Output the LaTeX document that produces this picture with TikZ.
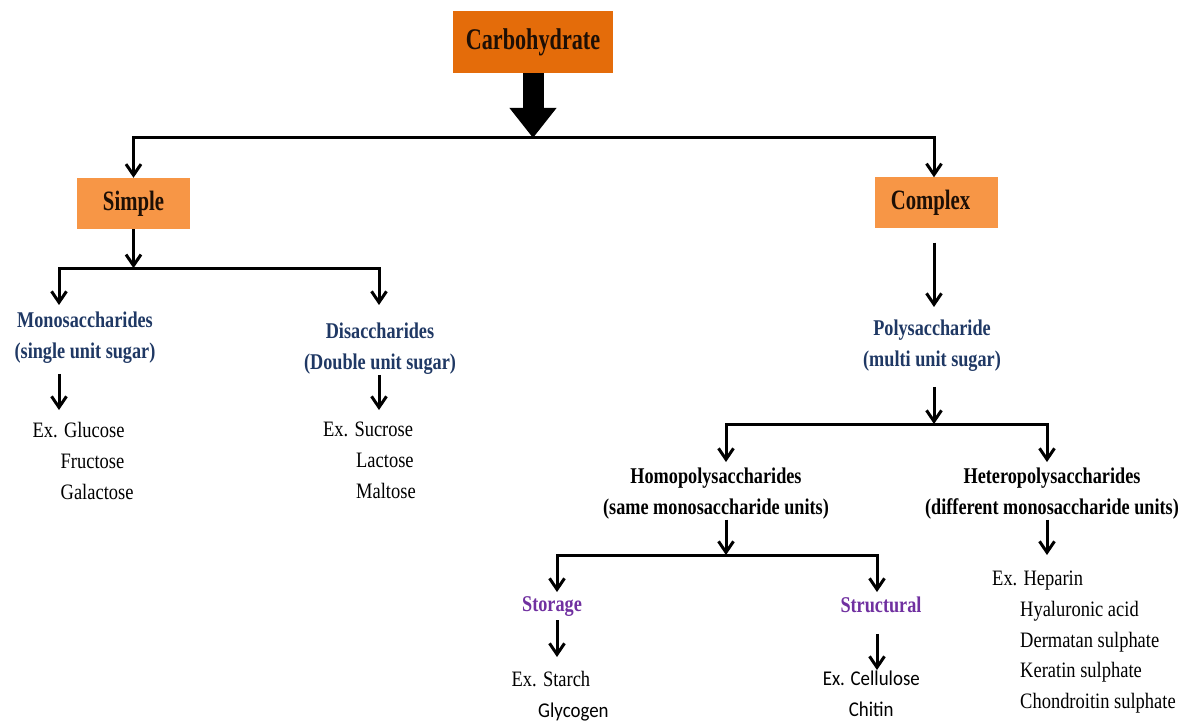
\documentclass[tikz,border=0pt]{standalone}
\usepackage{fontspec}
\setmainfont{Liberation Serif}
\newfontfamily\boxfamily{Liberation Serif}[FakeStretch=0.74]
\newfontfamily\labelfamily{Liberation Serif}[FakeStretch=0.81]
\newfontfamily\exfamily{Liberation Serif}[FakeStretch=0.84]
\newfontfamily\calfamily{Carlito}[FakeStretch=0.9]
\newcommand{\rootfont}{\boxfamily\bfseries\fontsize{30}{36}\selectfont}
\newcommand{\classfont}{\boxfamily\bfseries\fontsize{28}{34}\selectfont}
\newcommand{\sugarfont}{\labelfamily\bfseries\fontsize{22.5}{31}\selectfont}
\newcommand{\exfont}{\exfamily\fontsize{22}{30.8}\selectfont}
\newcommand{\calfont}{\calfamily\fontsize{21}{30.8}\selectfont}
\usepackage{tikz}
\usetikzlibrary{arrows.meta}
\definecolor{carbfill}{RGB}{228,108,10}
\definecolor{classfill}{RGB}{247,150,70}
\definecolor{boxtext}{RGB}{30,15,5}
\definecolor{sugarblue}{RGB}{31,56,100}
\definecolor{kindpurple}{RGB}{112,48,160}
\tikzstyle{arrow} = [line width=3pt,-{Straight Barb[length=11pt,width=15pt]}]
\tikzstyle{line} = [line width=3pt]
\tikzstyle{bigarrow} = [line width=21pt,-{Triangle[length=30pt,width=45pt]}]
\tikzstyle{rootbox} = [fill=carbfill, text=boxtext, font=\rootfont, minimum width=160pt, minimum height=62pt, inner sep=0pt]
\tikzstyle{classbox} = [fill=classfill, text=boxtext, font=\classfont, minimum height=51pt, inner sep=0pt]
\tikzstyle{sugar} = [text=sugarblue, font=\sugarfont, align=center, inner sep=0pt, anchor=north]
\tikzstyle{kind} = [text=kindpurple, font=\sugarfont, align=center, inner sep=0pt, anchor=north]
\tikzstyle{example} = [font=\exfont, align=left, inner sep=0pt, anchor=north west]

\begin{document}
\begin{tikzpicture}[node distance=160pt]
\useasboundingbox (0,0) rectangle (1187pt,-722pt);
\node (carb) [rootbox] at (533pt,-42pt) {Carbohydrate};
\node (simple) [below of=carb, classbox, minimum width=113pt, xshift=-399.5pt, yshift=-1.5pt] {Simple};
\node (complex) [below of=carb, classbox, minimum width=123pt, xshift=403.5pt, yshift=-1pt] {Complex\hspace*{12pt}};

\node (mono) [sugar] at (85pt,-311.8pt) {Monosaccharides\\(single unit sugar)};
\node (di) [sugar] at (380pt,-322.8pt) {Disaccharides\\(Double unit sugar)};
\node (poly) [sugar] at (932pt,-319.8pt) {Polysaccharide\\(multi unit sugar)};
\node (homo) [sugar, text=black] at (716pt,-467.8pt) {Homopolysaccharides\\(same monosaccharide units)};
\node (hetero) [sugar, text=black] at (1052pt,-467.8pt) {Heteropolysaccharides\\(different monosaccharide units)};
\node (storage) [kind] at (552pt,-596.8pt) {Storage};
\node (structural) [kind] at (881pt,-596.8pt) {Structural};

\node (ex1) [example] at (32.5pt,-422pt) {Ex. Glucose\\\hspace*{28pt}Fructose\\\hspace*{28pt}Galactose};
\node (ex2) [example] at (323pt,-422pt) {Ex. Sucrose\\\hspace*{33pt}Lactose\\\hspace*{33pt}Maltose};
\node (starch) [example] at (511.5pt,-671pt) {Ex. Starch\\\hspace*{26.5pt}{\calfont Glycogen}};
\node (cellulose) [example, font=\calfont] at (822.6pt,-671pt) {Ex. Cellulose\\\hspace*{26pt}Chitin};
\node (heparin) [example] at (992pt,-570.7pt) {Ex. Heparin\\\hspace*{28pt}Hyaluronic acid\\\hspace*{28pt}Dermatan sulphate\\\hspace*{28pt}Keratin sulphate\\\hspace*{28pt}Chondroitin sulphate};

\coordinate (fork0) at (533pt,-138pt);
\coordinate (forksimple) at ([yshift=-39pt]simple.south);
\coordinate (forkpoly) at (934pt,-424pt);
\coordinate (forkhomo) at (726pt,-555pt);

\draw [bigarrow] (carb.south) -- (fork0);
\draw [arrow] (fork0) -| (simple.north);
\draw [arrow] (fork0) -| ([xshift=-2.5pt]complex.north);

\draw [arrow] (simple.south) -- (forksimple);
\draw [arrow, shorten >=6.8pt] (forksimple) -| ([xshift=-26pt]mono.north);
\draw [arrow, shorten >=17.8pt] (forksimple) -| ([xshift=-1pt]di.north);
\draw [arrow, shorten <=10.1pt, shorten >=12pt] ([xshift=-26pt]mono.south) -- ([xshift=-26pt]mono.south |- ex1.north);
\draw [arrow, shorten >=12pt] ([xshift=-1pt]di.south) -- ([xshift=-1pt]di.south |- ex2.north);

\draw [arrow, shorten <=14pt, shorten >=12.8pt] ([xshift=-2.5pt]complex.south) -- ([xshift=-2.5pt]complex.south |- poly.north);
\draw [arrow, shorten <=15.1pt] ([xshift=2pt]poly.south) -- (forkpoly);
\draw [arrow, shorten >=5.8pt] (forkpoly) -| ([xshift=10pt]homo.north);
\draw [arrow, shorten >=5.8pt] (forkpoly) -| ([xshift=-5pt]hetero.north);
\draw [arrow] ([xshift=10pt]homo.south) -- (forkhomo);
\draw [arrow, shorten >=15.7pt] ([xshift=-5pt]hetero.south) -- ([xshift=-5pt]hetero.south |- heparin.north);

\draw [arrow, shorten >=4.8pt] (forkhomo) -| ([xshift=5pt]storage.north);
\draw [arrow, shorten >=4.8pt] (forkhomo) -| ([xshift=-4pt]structural.north);
\draw [arrow, shorten <=3.1pt, shorten >=14pt] ([xshift=5pt]storage.south) -- ([xshift=5pt]storage.south |- starch.north);
\draw [arrow, shorten <=20.7pt, shorten >=1pt] ([xshift=-4pt]structural.south) -- ([xshift=-4pt]structural.south |- cellulose.north);
\end{tikzpicture}
\end{document}
